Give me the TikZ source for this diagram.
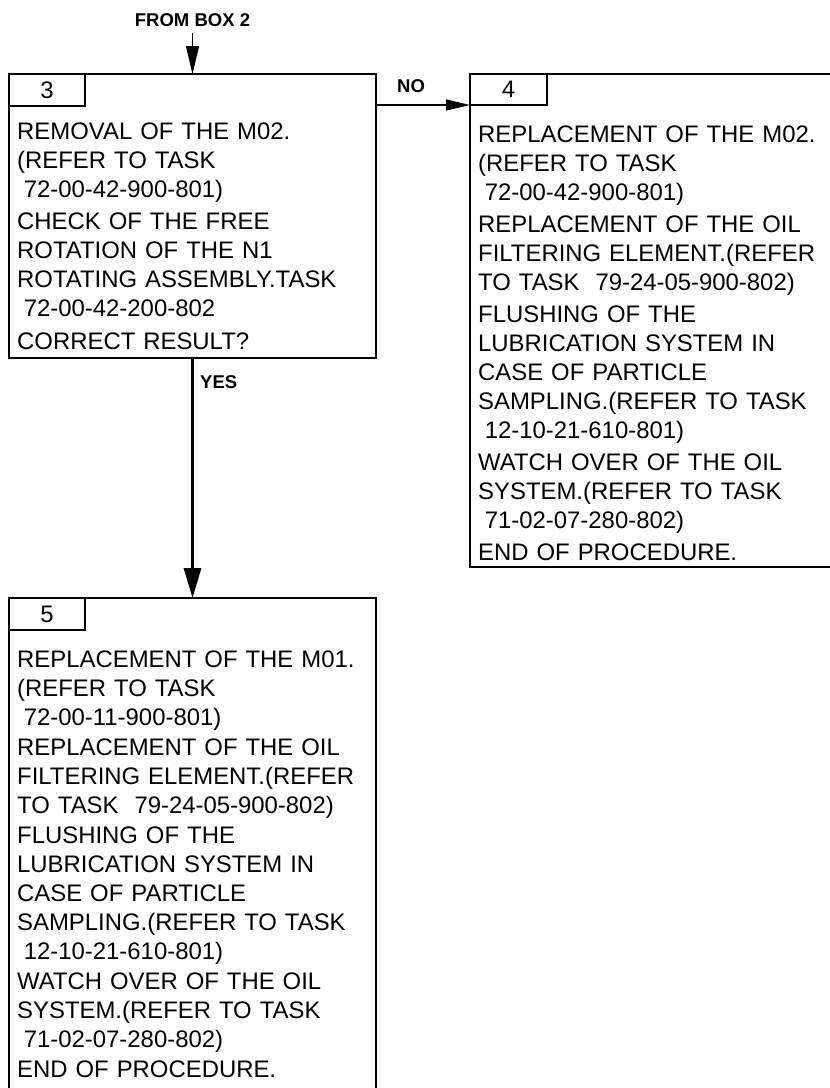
\documentclass[tikz,border=0pt]{standalone}
\usepackage{fontspec}
\setmainfont{Liberation Sans}
\usetikzlibrary{arrows.meta}
\newcommand{\ind}{\hspace*{0.278em}}
\newcommand{\fst}{\rule{0pt}{18pt}}
\begin{document}
\begin{tikzpicture}[x=1pt,y=-1pt,
  box/.style={draw, line width=1.8pt, anchor=north west, inner sep=0pt, outer sep=0pt},
  numbox/.style={box, font=\fontsize{23.9}{29}\selectfont},
  body/.style={anchor=north west, inner sep=0pt, text width=400pt, align=left, font=\fontsize{23.9}{29}\selectfont},
  lab/.style={font=\bfseries\fontsize{18.5}{22}\selectfont, inner sep=0pt},
  thinarrow/.style={line width=1pt, -{Triangle[length=28pt,width=13pt]}},
  midarrow/.style={line width=1.3pt, -{Triangle[length=24pt,width=11pt]}},
  thickarrow/.style={line width=3pt, -{Triangle[length=30pt,width=17pt]}}
  ]
\useasboundingbox (0,0) rectangle (830,1088);
\clip (0,0) rectangle (830,1088);
\fill[white] (0,0) rectangle (830,1088);

% boxes
\node[box, minimum width=367pt, minimum height=284pt] (b3) at (9,74) {};
\node[box, minimum width=400pt, minimum height=493pt] (b4) at (470,74) {};
\node[box, minimum width=367pt, minimum height=520pt] (b5) at (9,598) {};

% number boxes
\node[numbox, minimum width=76pt, minimum height=32pt] (l3) at (9,74) {3};
\node[numbox, minimum width=77pt, minimum height=31pt] (l4) at (470,74) {4};
\node[numbox, minimum width=76pt, minimum height=32pt] (l5) at (9,598) {5};

% texts
\node[body] (t3) at (17,121) {\fst REMOVAL OF THE M02.\\
(REFER TO TASK\\
\ind 72-00-42-900-801)\\[3pt]
CHECK OF THE FREE\\
ROTATION OF THE N1\\
ROTATING ASSEMBLY.TASK\\
\ind 72-00-42-200-802\\[4pt]
CORRECT RESULT?};

\node[body] (t4) at (478,124) {\fst REPLACEMENT OF THE M02.\\
(REFER TO TASK\\
\ind 72-00-42-900-801)\\[3pt]
REPLACEMENT OF THE OIL\\
FILTERING ELEMENT.(REFER\\
TO TASK\ \ 79-24-05-900-802)\\[3pt]
FLUSHING OF THE\\
LUBRICATION SYSTEM IN\\
CASE OF PARTICLE\\
SAMPLING.(REFER TO TASK\\
\ind 12-10-21-610-801)\\[3pt]
WATCH OVER OF THE OIL\\
SYSTEM.(REFER TO TASK\\
\ind 71-02-07-280-802)\\[3pt]
END OF PROCEDURE.};

\node[body] (t5) at (17,649) {\fst REPLACEMENT OF THE M01.\\
(REFER TO TASK\\
\ind 72-00-11-900-801)\\[1pt]
REPLACEMENT OF THE OIL\\
FILTERING ELEMENT.(REFER\\
TO TASK\ \ 79-24-05-900-802)\\[1pt]
FLUSHING OF THE\\
LUBRICATION SYSTEM IN\\
CASE OF PARTICLE\\
SAMPLING.(REFER TO TASK\\
\ind 12-10-21-610-801)\\[1pt]
WATCH OVER OF THE OIL\\
SYSTEM.(REFER TO TASK\\
\ind 71-02-07-280-802)\\[1pt]
END OF PROCEDURE.};

% labels
\node[lab, anchor=base] (fb2) at (192.5,26) {FROM BOX 2};
\node[lab, anchor=base west] (no) at (397,92) {NO};
\node[lab, anchor=base west] (yes) at (200,388) {YES};

% connectors
\coordinate (src) at (192.5,33);
\draw[thinarrow] (src) -- (b3.north);
\draw[midarrow] (l4.south west -| b3.east) -- (l4.south west);
\draw[thickarrow] (b3.south) -- (b5.north);
\end{tikzpicture}
\end{document}
